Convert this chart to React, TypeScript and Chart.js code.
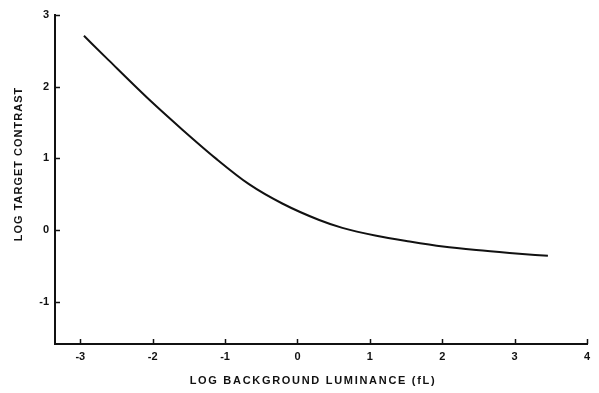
import React, { useEffect, useRef } from "react";
import { Chart, registerables } from "chart.js";

Chart.register(...registerables);

// Data
const luminance = [-2.95, -2.61, -2.05, -1.59, -1.13, -0.67, -0.21, 0.3, 0.62, 1.09, 1.55, 2.01, 2.47, 2.93, 3.46];
const contrast = [2.71, 2.37, 1.82, 1.4, 1.0, 0.64, 0.37, 0.14, 0.03, -0.08, -0.16, -0.23, -0.28, -0.32, -0.36];
const xTickValues = [-3, -2, -1, 0, 1, 2, 3, 4];
const yTickValues = [-1, 0, 1, 2, 3];
const xTitle = "LOG BACKGROUND LUMINANCE (fL)";
const yTitle = "LOG TARGET CONTRAST";

const FONT = '"Liberation Sans", Arial, sans-serif';
const INK = "#111";

const axisDecor = {
  id: "axisDecor",
  afterDraw(chart: any) {
    const { ctx, chartArea } = chart;
    const xs = chart.scales.x;
    const ys = chart.scales.y;
    ctx.save();
    ctx.strokeStyle = INK;
    ctx.lineWidth = 1.5;
    xs.ticks.forEach((t: any) => {
      const px = Math.round(xs.getPixelForValue(t.value)) + 0.5;
      ctx.beginPath();
      ctx.moveTo(px, chartArea.bottom);
      ctx.lineTo(px, chartArea.bottom - 5);
      ctx.stroke();
    });
    ys.ticks.forEach((t: any) => {
      const py = Math.round(ys.getPixelForValue(t.value)) + 0.5;
      ctx.beginPath();
      ctx.moveTo(chartArea.left, py);
      ctx.lineTo(chartArea.left + 5, py);
      ctx.stroke();
    });
    ctx.fillStyle = INK;
    ctx.font = `bold 11px ${FONT}`;
    ctx.textAlign = "center";
    ctx.textBaseline = "middle";
    (ctx as any).letterSpacing = "1.7px";
    ctx.fillText(xTitle, chartArea.left + 258, chartArea.bottom + 37);
    (ctx as any).letterSpacing = "1px";
    ctx.translate(19, chartArea.top + 149);
    ctx.rotate(-Math.PI / 2);
    ctx.fillText(yTitle, 0, 0);
    ctx.restore();
  },
};

export default function App() {
  const ref = useRef<HTMLCanvasElement | null>(null);
  useEffect(() => {
    if (!ref.current) return;
    const chart = new Chart(ref.current, {
      type: "scatter",
      data: {
        datasets: [
          {
            data: luminance.map((x, i) => ({ x, y: contrast[i] })),
            showLine: true,
            borderColor: INK,
            borderWidth: 2,
            pointRadius: 0,
            cubicInterpolationMode: "monotone",
            fill: false,
          } as any,
        ],
      },
      options: {
        animation: false,
        responsive: true,
        maintainAspectRatio: false,
        layout: { padding: { top: 15, right: 12, left: 0, bottom: 0 } },
        plugins: { legend: { display: false }, tooltip: { enabled: false }, title: { display: false } },
        scales: {
          x: {
            type: "linear",
            min: -3.35,
            max: 4,
            afterFit(scale: any) {
              scale.height = 49;
            },
            afterBuildTicks(scale: any) {
              scale.ticks = xTickValues.map((v) => ({ value: v }));
            },
            grid: { display: true, drawOnChartArea: false, drawTicks: false },
            border: { display: true, color: INK, width: 2 },
            ticks: {
              color: INK,
              padding: 6,
              font: { family: FONT, size: 11, weight: "bold" },
              maxRotation: 0,
              autoSkip: false,
            },
          },
          y: {
            type: "linear",
            min: -1.59,
            max: 3,
            afterFit(scale: any) {
              scale.width = 55;
            },
            afterBuildTicks(scale: any) {
              scale.ticks = yTickValues.map((v) => ({ value: v }));
            },
            grid: { display: true, drawOnChartArea: false, drawTicks: false },
            border: { display: true, color: INK, width: 2 },
            ticks: {
              color: INK,
              padding: 6,
              font: { family: FONT, size: 11, weight: "bold" },
              autoSkip: false,
            },
          },
        },
      },
      plugins: [axisDecor],
    });
    return () => chart.destroy();
  }, []);
  return (
    <div style={{ position: "fixed", left: 0, top: 0, width: 599, height: 393, background: "#fff" }}>
      <canvas ref={ref} />
    </div>
  );
}
